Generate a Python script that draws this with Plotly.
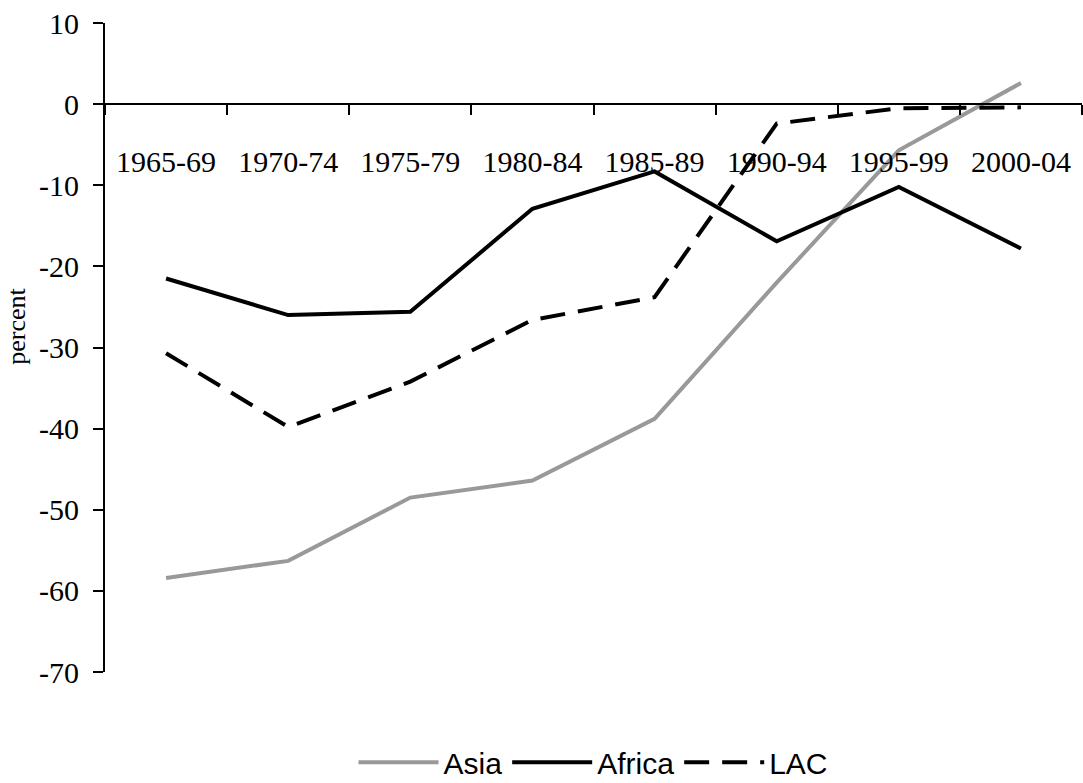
import plotly.graph_objects as go

periods = ["1965-69", "1970-74", "1975-79", "1980-84", "1985-89", "1990-94", "1995-99", "2000-04"]
asia = [-58.4, -56.3, -48.5, -46.4, -38.8, -22.0, -5.7, 2.6]
africa = [-21.5, -26.0, -25.6, -12.9, -8.3, -16.9, -10.2, -17.8]
lac = [-30.7, -39.8, -34.2, -26.6, -23.8, -2.4, -0.5, -0.4]

y_tick_values = [10, 0, -10, -20, -30, -40, -50, -60, -70]
y_tick_labels = ["10", "0", "-10", "-20", "-30", "-40", "-50", "-60", "-70"]

serif = "Liberation Serif, Times New Roman, serif"
narrow = "Liberation Sans Narrow, Arial Narrow, Liberation Sans, Arial, sans-serif"

fig = go.Figure()
fig.add_trace(go.Scatter(x=periods, y=asia, name="Asia", mode="lines",
                         line=dict(color="#999999", width=4)))
fig.add_trace(go.Scatter(x=periods, y=africa, name="Africa", mode="lines",
                         line=dict(color="#000000", width=4)))
fig.add_trace(go.Scatter(x=periods, y=lac, name="LAC", mode="lines",
                         line=dict(color="#000000", width=4, dash="25px,13px")))

L, R, T, B = 105, 1, 23, 111
plot_w = 1083 - L - R

fig.update_layout(
    width=1083, height=783,
    margin=dict(l=L, r=R, t=T, b=B, autoexpand=False),
    paper_bgcolor="white", plot_bgcolor="white",
    showlegend=True,
    legend=dict(orientation="h", x=0.5, xanchor="center", y=-0.139, yanchor="middle",
                font=dict(family=narrow, size=30, color="black"), itemwidth=80,
                bgcolor="rgba(0,0,0,0)"),
    xaxis=dict(type="category", range=[-0.5, 7.5], anchor="free", position=0.875,
               automargin=False,
               showline=True, linecolor="black", linewidth=2,
               ticks="outside", tickson="boundaries", ticklen=10, tickwidth=2, tickcolor="black",
               ticklabelstandoff=31,
               tickfont=dict(family=serif, size=30, color="black"),
               showgrid=False, zeroline=False),
    yaxis=dict(range=[-70, 10], tickmode="array", tickvals=y_tick_values, ticktext=y_tick_labels,
               automargin=False,
               showline=True, linecolor="black", linewidth=2,
               ticks="outside", ticklen=10, tickwidth=2, tickcolor="black",
               ticklabelstandoff=8,
               tickfont=dict(family=serif, size=30, color="black"),
               showgrid=False, zeroline=False),
    annotations=[dict(text="percent", xref="paper", yref="paper",
                      x=(17 - L) / plot_w, y=0.532, xanchor="center", yanchor="middle",
                      textangle=-90, showarrow=False,
                      font=dict(family=serif, size=26, color="black"))],
)

fig.write_html("out.html", config={"displayModeBar": False},
               post_script="document.body.style.margin='0px';")
